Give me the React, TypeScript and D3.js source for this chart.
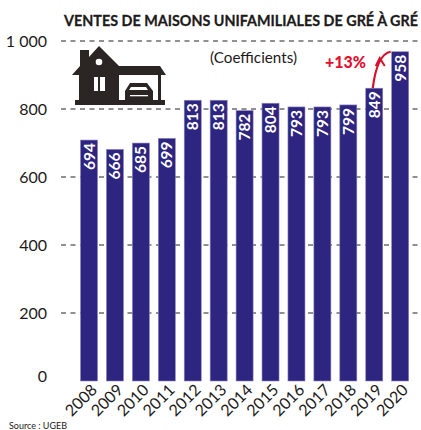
import React from "react";
import * as d3 from "d3";

const years = ["2008","2009","2010","2011","2012","2013","2014","2015","2016","2017","2018","2019","2020"];
const values = [694,666,685,699,813,813,782,804,793,793,799,849,958];
const ticks = [0,200,400,600,800,1000];
const tickLabels = ["0","200","400","600","800","1 000"];
const title = "VENTES DE MAISONS UNIFAMILIALES DE GRÉ À GRÉ";
const subtitle = "(Coefficients)";
const source = "Source : UGEB";
const growth = "+13%";

const FONT = "Lato, 'Open Sans', sans-serif";

export default function App() {
  const x = d3.scaleBand<string>().domain(years).range([77.4, 411.8]).paddingInner(0.344).paddingOuter(0.12);
  const yAxis = d3.scaleLinear().domain([0, 1000]).range([381, 41]);
  const yBar = d3.scaleLinear().domain([0, 1000]).range([372.2, 37.7]);
  const baseline = 381;
  const arrowX0 = x("2019")! + x.bandwidth() / 2 - 1.5;
  const arrowY0 = yBar(849);
  const arrowX1 = x("2020")!;
  const arrowY1 = yBar(958);
  const arc = d3.path();
  arc.moveTo(arrowX0, arrowY0);
  arc.bezierCurveTo(arrowX0 + 2, arrowY0 - 16, arrowX0 + 6, arrowY1 + 2, arrowX1 - 1, arrowY1);
  return (
    <svg width={421} height={430} style={{ position: "absolute", left: 0, top: 0, fontFamily: FONT }}>
      <rect width={421} height={430} fill="#fff" />
      <text transform="translate(64,26) scale(1,1.08)" fontSize={13.7} fontWeight={700} fill="#1d1a1a" stroke="#1d1a1a" strokeWidth={0.25} textLength={354} lengthAdjust="spacingAndGlyphs">{title}</text>
      {ticks.map((t, i) => (
        <g key={t}>
          {t > 0 && <line x1={61} x2={420} y1={yAxis(t)} y2={yAxis(t)} stroke="#222" strokeWidth={1} strokeDasharray="5 4.5" />}
          <text x={47} y={t === 0 ? 382 : yAxis(t) + 5.5} textAnchor="end" fontSize={16} fill="#1d1a1a">{tickLabels[i]}</text>
        </g>
      ))}
      {years.map((yr, i) => (
        <g key={yr}>
          <rect x={x(yr)} y={yBar(values[i])} width={x.bandwidth()} height={baseline - yBar(values[i])} fill="#2e2581" stroke="#8a84bd" strokeWidth={0.6} />
          <text
            transform={`translate(${x(yr)! + x.bandwidth() / 2 + 5.5},${yBar(values[i]) + 3}) rotate(-90)`}
            textAnchor="end" fontSize={15.5} fontWeight={700} fill="#fff"
          >{values[i]}</text>
          <text
            transform={`translate(${x(yr)! + x.bandwidth() / 2 + 9},${baseline + 10}) rotate(-45)`}
            textAnchor="end" fontSize={16} fill="#1d1a1a"
          >{yr}</text>
        </g>
      ))}
      <text x={210} y={63} fontSize={14.5} fill="#1d1a1a" textLength={87} lengthAdjust="spacingAndGlyphs">{subtitle}</text>
      <text x={325} y={68} fontSize={17} fontWeight={900} fill="#e30f2c" textLength={41} lengthAdjust="spacingAndGlyphs">{growth}</text>
      <path d={arc.toString()} fill="none" stroke="#d8102c" strokeWidth={2.2} />
      <path d={`M${arrowX0 + 3} 66 L${arrowX0 + 7} 58 L${arrowX0 + 12} 66`} fill="none" stroke="#d8102c" strokeWidth={2} />
      {/* house icon */}
      <g fill="#2b2523">
        <path fillRule="evenodd" d="M72 75 L80 66 L80 50 L89 50 L89 57 L99 46 L119 66 L160 66 L166 75 L161 75 L161 105 L79 105 L79 75 Z M119 75 L119 100 L158 100 L158 75 Z M94 77 L94 91 L98 91 L98 77 Z M100 77 L100 91 L105 91 L105 77 Z" />
        <circle cx={99} cy={62} r={3.3} fill="#fff" />
        <path d="M125 100 L125 91 L130 83 L147 83 L153 91 L153 100 Z" />
        <rect x={75} y={100} width={90} height={5} />
      </g>
      <g fill="#fff">
        <path d="M131 87 L146 87 L148 90 L129 90 Z" />
        <rect x={130} y={95} width={18} height={1.3} />
      </g>
      <text x={9} y={429} fontSize={10} fill="#1d1a1a" textLength={58} lengthAdjust="spacingAndGlyphs">{source}</text>
    </svg>
  );
}
